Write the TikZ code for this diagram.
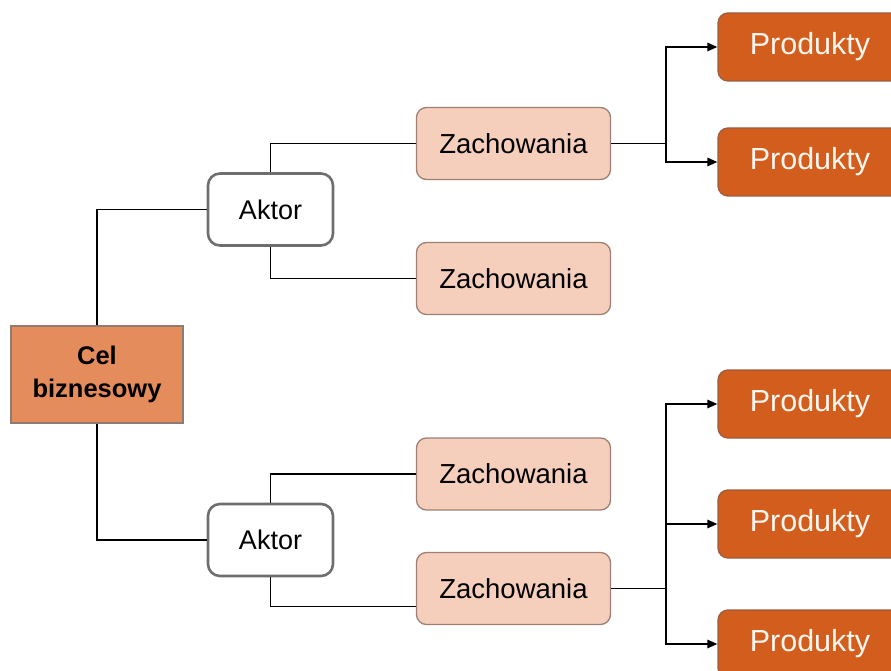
\documentclass[tikz,border=0pt]{standalone}
\usepackage{fontspec}
\setmainfont{Liberation Sans}
\usetikzlibrary{arrows.meta}

\definecolor{celfill}{HTML}{E58C5C}
\definecolor{celedge}{HTML}{8E7C72}
\definecolor{aktedge}{HTML}{6E6E6E}
\definecolor{zachfill}{HTML}{F6CFBC}
\definecolor{zachedge}{HTML}{9C8074}
\definecolor{prodfill}{HTML}{D25D1D}
\definecolor{prodedge}{HTML}{9A5E42}
\definecolor{prodtext}{HTML}{FFF6EF}

\tikzset{
  goalbox/.style={draw=celedge, line width=1.2pt, fill=celfill, minimum width=172pt,
    minimum height=97pt, align=center, inner sep=0pt,
    font=\fontsize{25.5}{32.5}\selectfont\bfseries},
  actorbox/.style={draw=aktedge, line width=2.6pt, fill=white, rounded corners=12pt,
    minimum width=125pt, minimum height=72pt, inner sep=0pt,
    font=\fontsize{27}{32}\selectfont},
  behavbox/.style={draw=zachedge, line width=1.3pt, fill=zachfill, rounded corners=10pt,
    minimum width=194pt, minimum height=72pt, inner sep=0pt,
    font=\fontsize{27.5}{32}\selectfont},
  prodbox/.style={draw=prodedge, line width=1.3pt, fill=prodfill, rounded corners=10pt,
    minimum width=184pt, minimum height=68pt, inner sep=0pt, text=prodtext,
    font=\fontsize{30.5}{36}\selectfont},
  link/.style={draw=black, line width=1.5pt},
  arrowlink/.style={link, -{Triangle[length=10pt,width=8.5pt]}},
}

\begin{document}
\begin{tikzpicture}[x=1pt, y=-1pt]
  \useasboundingbox (0,0) rectangle (891,671);
  \clip (0,0) rectangle (891,671);

  % root
  \node[goalbox] (cel) at (97,374.5) {Cel\\biznesowy};

  % actors
  \node[actorbox] (akt1) at (270.5,209.5) {Aktor};
  \node[actorbox] (akt2) at (270.5,540) {Aktor};

  % behaviours
  \node[behavbox] (z1) at (513.5,143.5) {Zachowania};
  \node[behavbox] (z2) at (513.5,278.5) {Zachowania};
  \node[behavbox] (z3) at (513.5,474) {Zachowania};
  \node[behavbox] (z4) at (513.5,588.5) {Zachowania};

  % products
  \node[prodbox] (p1) at (810,47) {Produkty};
  \node[prodbox] (p2) at (810,162) {Produkty};
  \node[prodbox] (p3) at (810,404) {Produkty};
  \node[prodbox] (p4) at (810,524) {Produkty};
  \node[prodbox] (p5) at (810,644) {Produkty};

  % branch points
  \coordinate (j1) at (666,143.5);
  \coordinate (j2) at (666,588.5);
  \coordinate (z4in) at ([yshift=-18pt]z4.west);

  % root to actors
  \draw[link] (cel.north) |- (akt1.west);
  \draw[link] (cel.south) |- (akt2.west);

  % actors to behaviours
  \draw[link] (akt1.north) |- (z1.west);
  \draw[link] (akt1.south) |- (z2.west);
  \draw[link] (akt2.north) |- (z3.west);
  \draw[link] (akt2.south) |- (z4in);

  % behaviours to products
  \draw[link] (z1.east) -- (j1);
  \draw[arrowlink] (j1) |- (p1.west);
  \draw[arrowlink] (j1) |- (p2.west);
  \draw[link] (z4.east) -- (j2);
  \draw[arrowlink] (j2) |- (p3.west);
  \draw[arrowlink] (j2) |- (p4.west);
  \draw[arrowlink] (j2) |- (p5.west);
\end{tikzpicture}
\end{document}
